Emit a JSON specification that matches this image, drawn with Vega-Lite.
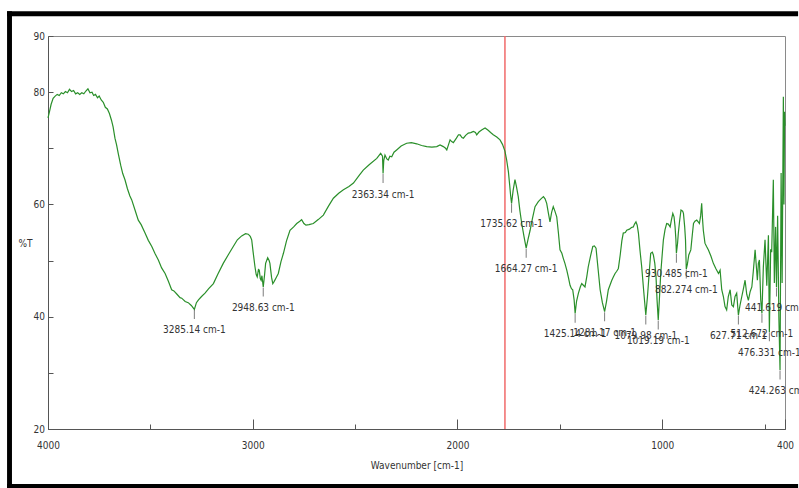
{
  "$schema": "https://vega.github.io/schema/vega-lite/v6.json",
  "width": 737,
  "height": 393,
  "autosize": {"type": "none"},
  "padding": {"left": 48, "top": 36, "right": 14, "bottom": 59},
  "background": "white",
  "config": {
    "view": {"stroke": "#8a8a8a", "strokeWidth": 1},
    "font": "DejaVu Sans Condensed, DejaVu Sans, sans-serif",
    "axis": {"labelFont": "DejaVu Sans Condensed, DejaVu Sans, sans-serif", "titleFont": "DejaVu Sans Condensed, DejaVu Sans, sans-serif"}
  },
  "datasets": {
    "spectrum": [
      {"wn":4000,"t":75.4},{"wn":3993,"t":76.5},{"wn":3985,"t":77.8},{"wn":3975,"t":78.9},{"wn":3965,"t":79.3},{"wn":3955,"t":79.6},{"wn":3945,"t":79.4},{"wn":3935,"t":79.9},{"wn":3925,"t":79.7},{"wn":3915,"t":80.1},{"wn":3905,"t":79.9},{"wn":3895,"t":80.5},{"wn":3885,"t":80.1},{"wn":3875,"t":80.3},{"wn":3865,"t":79.7},{"wn":3855,"t":79.9},{"wn":3845,"t":79.6},{"wn":3835,"t":79.9},{"wn":3825,"t":79.7},{"wn":3815,"t":80.2},{"wn":3805,"t":80.6},{"wn":3795,"t":79.9},{"wn":3785,"t":80.0},{"wn":3777,"t":79.4},{"wn":3768,"t":79.6},{"wn":3758,"t":79.0},{"wn":3750,"t":79.3},{"wn":3740,"t":78.6},{"wn":3730,"t":78.2},{"wn":3720,"t":77.3},{"wn":3710,"t":77.0},{"wn":3700,"t":76.2},{"wn":3690,"t":75.0},{"wn":3682,"t":73.8},{"wn":3673,"t":71.8},{"wn":3665,"t":70.6},{"wn":3657,"t":69.1},{"wn":3645,"t":67.0},{"wn":3635,"t":65.5},{"wn":3624,"t":64.4},{"wn":3612,"t":62.8},{"wn":3600,"t":61.5},{"wn":3591,"t":60.8},{"wn":3575,"t":59.0},{"wn":3559,"t":57.2},{"wn":3545,"t":56.4},{"wn":3526,"t":54.9},{"wn":3510,"t":53.6},{"wn":3493,"t":52.5},{"wn":3478,"t":51.3},{"wn":3461,"t":50.1},{"wn":3445,"t":48.7},{"wn":3428,"t":47.7},{"wn":3412,"t":46.3},{"wn":3396,"t":44.8},{"wn":3385,"t":44.6},{"wn":3370,"t":44.0},{"wn":3355,"t":43.4},{"wn":3347,"t":43.3},{"wn":3330,"t":42.7},{"wn":3315,"t":42.5},{"wn":3300,"t":42.0},{"wn":3285.14,"t":41.3},{"wn":3275,"t":42.5},{"wn":3265,"t":43.0},{"wn":3250,"t":43.6},{"wn":3233,"t":44.2},{"wn":3215,"t":45.0},{"wn":3192,"t":45.9},{"wn":3170,"t":47.6},{"wn":3144,"t":49.5},{"wn":3120,"t":51.0},{"wn":3095,"t":52.5},{"wn":3075,"t":53.7},{"wn":3054,"t":54.4},{"wn":3035,"t":54.8},{"wn":3022,"t":54.7},{"wn":3012,"t":54.3},{"wn":3005,"t":53.7},{"wn":2998,"t":51.5},{"wn":2989,"t":48.9},{"wn":2983,"t":47.5},{"wn":2978,"t":47.1},{"wn":2972,"t":48.4},{"wn":2968,"t":48.3},{"wn":2963,"t":46.8},{"wn":2959,"t":46.5},{"wn":2955,"t":47.3},{"wn":2948.63,"t":45.3},{"wn":2942,"t":47.5},{"wn":2937,"t":49.5},{"wn":2927,"t":50.5},{"wn":2920,"t":50.0},{"wn":2916,"t":49.5},{"wn":2908,"t":47.0},{"wn":2902,"t":45.9},{"wn":2895,"t":46.3},{"wn":2885,"t":47.0},{"wn":2875,"t":47.7},{"wn":2862,"t":49.8},{"wn":2850,"t":51.3},{"wn":2835,"t":53.5},{"wn":2818,"t":55.4},{"wn":2800,"t":56.0},{"wn":2785,"t":56.6},{"wn":2770,"t":57.0},{"wn":2761,"t":57.3},{"wn":2750,"t":56.6},{"wn":2740,"t":56.3},{"wn":2725,"t":56.4},{"wn":2704,"t":56.6},{"wn":2680,"t":57.3},{"wn":2655,"t":58.1},{"wn":2630,"t":59.7},{"wn":2606,"t":61.1},{"wn":2580,"t":62.0},{"wn":2557,"t":62.6},{"wn":2530,"t":63.2},{"wn":2508,"t":63.8},{"wn":2479,"t":65.2},{"wn":2460,"t":66.1},{"wn":2430,"t":67.1},{"wn":2394,"t":68.2},{"wn":2375,"t":69.1},{"wn":2366,"t":68.6},{"wn":2363.34,"t":65.5},{"wn":2360,"t":67.8},{"wn":2354,"t":68.8},{"wn":2345,"t":68.1},{"wn":2338,"t":67.9},{"wn":2330,"t":68.6},{"wn":2321,"t":68.5},{"wn":2310,"t":69.3},{"wn":2297,"t":69.7},{"wn":2275,"t":70.4},{"wn":2248,"t":70.9},{"wn":2225,"t":71.0},{"wn":2199,"t":70.8},{"wn":2175,"t":70.5},{"wn":2150,"t":70.3},{"wn":2125,"t":70.2},{"wn":2101,"t":70.3},{"wn":2085,"t":70.6},{"wn":2069,"t":70.3},{"wn":2058,"t":70.0},{"wn":2052,"t":69.7},{"wn":2044,"t":70.6},{"wn":2036,"t":71.5},{"wn":2028,"t":71.2},{"wn":2020,"t":71.0},{"wn":2005,"t":71.8},{"wn":1995,"t":72.4},{"wn":1987,"t":72.4},{"wn":1978,"t":71.9},{"wn":1971,"t":71.8},{"wn":1960,"t":72.3},{"wn":1947,"t":72.7},{"wn":1935,"t":72.8},{"wn":1922,"t":73.0},{"wn":1912,"t":72.8},{"wn":1906,"t":72.4},{"wn":1895,"t":72.9},{"wn":1880,"t":73.3},{"wn":1865,"t":73.6},{"wn":1850,"t":73.2},{"wn":1838,"t":72.8},{"wn":1825,"t":72.4},{"wn":1808,"t":72.0},{"wn":1792,"t":71.5},{"wn":1780,"t":70.7},{"wn":1768,"t":69.5},{"wn":1760,"t":68.0},{"wn":1751,"t":65.8},{"wn":1745,"t":63.5},{"wn":1740,"t":61.5},{"wn":1735.62,"t":60.2},{"wn":1728,"t":62.5},{"wn":1719,"t":64.4},{"wn":1712,"t":63.2},{"wn":1703,"t":61.4},{"wn":1695,"t":58.9},{"wn":1686,"t":56.6},{"wn":1675,"t":54.3},{"wn":1664.27,"t":52.2},{"wn":1655,"t":53.8},{"wn":1645,"t":55.4},{"wn":1633,"t":57.6},{"wn":1621,"t":59.6},{"wn":1605,"t":60.5},{"wn":1592,"t":61.0},{"wn":1580,"t":61.4},{"wn":1572,"t":61.0},{"wn":1564,"t":60.2},{"wn":1556,"t":58.5},{"wn":1548,"t":56.9},{"wn":1540,"t":58.6},{"wn":1532,"t":59.6},{"wn":1524,"t":58.8},{"wn":1515,"t":57.8},{"wn":1507,"t":55.0},{"wn":1499,"t":51.9},{"wn":1490,"t":51.3},{"wn":1483,"t":50.4},{"wn":1475,"t":49.5},{"wn":1466,"t":48.3},{"wn":1458,"t":47.0},{"wn":1450,"t":45.6},{"wn":1443,"t":45.0},{"wn":1437,"t":44.8},{"wn":1430,"t":43.0},{"wn":1425.14,"t":40.6},{"wn":1418,"t":42.8},{"wn":1409,"t":44.2},{"wn":1400,"t":45.3},{"wn":1393,"t":45.9},{"wn":1385,"t":45.6},{"wn":1377,"t":45.3},{"wn":1368,"t":47.2},{"wn":1361,"t":48.9},{"wn":1350,"t":50.8},{"wn":1339,"t":52.5},{"wn":1331,"t":52.6},{"wn":1323,"t":52.2},{"wn":1313,"t":48.5},{"wn":1303,"t":44.8},{"wn":1292,"t":42.5},{"wn":1281.17,"t":40.9},{"wn":1272,"t":42.7},{"wn":1263,"t":44.8},{"wn":1255,"t":45.6},{"wn":1246,"t":46.5},{"wn":1238,"t":47.1},{"wn":1230,"t":47.7},{"wn":1222,"t":48.1},{"wn":1214,"t":48.6},{"wn":1205,"t":51.0},{"wn":1197,"t":53.5},{"wn":1190,"t":54.9},{"wn":1180,"t":55.0},{"wn":1173,"t":55.4},{"wn":1160,"t":55.6},{"wn":1150,"t":55.9},{"wn":1141,"t":56.0},{"wn":1135,"t":56.5},{"wn":1128,"t":56.9},{"wn":1122,"t":56.3},{"wn":1116,"t":54.9},{"wn":1108,"t":51.7},{"wn":1100,"t":48.9},{"wn":1090,"t":44.5},{"wn":1079.98,"t":40.3},{"wn":1072,"t":43.5},{"wn":1067,"t":46.0},{"wn":1062,"t":48.5},{"wn":1056,"t":51.3},{"wn":1048,"t":51.5},{"wn":1043,"t":51.0},{"wn":1036,"t":49.5},{"wn":1030,"t":47.1},{"wn":1025,"t":43.0},{"wn":1019.19,"t":39.4},{"wn":1013,"t":43.5},{"wn":1007,"t":47.7},{"wn":1000,"t":51.0},{"wn":994,"t":53.7},{"wn":986,"t":55.5},{"wn":978,"t":56.6},{"wn":970,"t":56.5},{"wn":961,"t":56.0},{"wn":955,"t":57.2},{"wn":948,"t":58.4},{"wn":942,"t":57.8},{"wn":937,"t":56.0},{"wn":933,"t":53.8},{"wn":930.485,"t":51.3},{"wn":925,"t":53.0},{"wn":921,"t":54.9},{"wn":915,"t":57.0},{"wn":908,"t":59.0},{"wn":900,"t":58.8},{"wn":896,"t":58.4},{"wn":890,"t":56.0},{"wn":886,"t":53.7},{"wn":882.274,"t":48.5},{"wn":877,"t":49.3},{"wn":870,"t":51.0},{"wn":860,"t":51.9},{"wn":853,"t":54.5},{"wn":847,"t":56.6},{"wn":840,"t":57.0},{"wn":831,"t":57.2},{"wn":824,"t":56.9},{"wn":818,"t":56.6},{"wn":812,"t":58.0},{"wn":807,"t":60.2},{"wn":803,"t":57.5},{"wn":799,"t":55.4},{"wn":791,"t":53.1},{"wn":783,"t":52.5},{"wn":774,"t":51.9},{"wn":762,"t":50.8},{"wn":750,"t":49.5},{"wn":738,"t":48.6},{"wn":725,"t":47.7},{"wn":717,"t":48.3},{"wn":709,"t":44.8},{"wn":701,"t":43.6},{"wn":693,"t":41.8},{"wn":685,"t":41.2},{"wn":677,"t":43.6},{"wn":668,"t":44.8},{"wn":660,"t":42.1},{"wn":652,"t":41.8},{"wn":644,"t":43.6},{"wn":636,"t":44.2},{"wn":627.71,"t":40.3},{"wn":620,"t":42.0},{"wn":611,"t":43.6},{"wn":603,"t":45.0},{"wn":595,"t":46.5},{"wn":587,"t":44.0},{"wn":579,"t":42.9},{"wn":570,"t":44.5},{"wn":562,"t":45.3},{"wn":555,"t":48.0},{"wn":546,"t":51.9},{"wn":540,"t":49.0},{"wn":535,"t":46.5},{"wn":530,"t":49.5},{"wn":525,"t":50.1},{"wn":518.5,"t":43.0},{"wn":512.672,"t":40.6},{"wn":505.7,"t":48.9},{"wn":497.5,"t":53.7},{"wn":489,"t":45.5},{"wn":481,"t":54.5},{"wn":476.331,"t":37.3},{"wn":470,"t":52.0},{"wn":465,"t":51.5},{"wn":457,"t":64.4},{"wn":452,"t":46.0},{"wn":446,"t":56.0},{"wn":441.619,"t":45.3},{"wn":436,"t":58.0},{"wn":430,"t":40.0},{"wn":424.263,"t":30.5},{"wn":419,"t":65.6},{"wn":414,"t":46.0},{"wn":408,"t":79.2},{"wn":405,"t":60.0},{"wn":402,"t":76.5},{"wn":400,"t":74.0}
    ],
    "peaks": [
      {"wn":3285.14,"t":41.3,"label":"3285.14 cm-1"},
      {"wn":2948.63,"t":45.3,"label":"2948.63 cm-1"},
      {"wn":2363.34,"t":65.5,"label":"2363.34 cm-1"},
      {"wn":1735.62,"t":60.2,"label":"1735.62 cm-1"},
      {"wn":1664.27,"t":52.2,"label":"1664.27 cm-1"},
      {"wn":1425.14,"t":40.6,"label":"1425.14 cm-1"},
      {"wn":1281.17,"t":40.9,"label":"1281.17 cm-1"},
      {"wn":1079.98,"t":40.3,"label":"1079.98 cm-1"},
      {"wn":1019.19,"t":39.4,"label":"1019.19 cm-1"},
      {"wn":930.485,"t":51.3,"label":"930.485 cm-1"},
      {"wn":882.274,"t":48.5,"label":"882.274 cm-1"},
      {"wn":627.71,"t":40.3,"label":"627.71 cm-1"},
      {"wn":512.672,"t":40.6,"label":"512.672 cm-1"},
      {"wn":476.331,"t":37.3,"label":"476.331 cm-1"},
      {"wn":441.619,"t":45.3,"label":"441.619 cm-1"},
      {"wn":424.263,"t":30.5,"label":"424.263 cm-1"}
    ],
    "marker": [{"wn": 1768}]
  },
  "layer": [
    {
      "data": {"values": [{}]},
      "mark": {"type": "rule", "color": "black", "strokeWidth": 5, "strokeCap": "butt", "clip": false},
      "encoding": {
        "x": {"datum": 4200, "type": "quantitative", "axis": null, "scale": {"domain": [400, 4000], "reverse": true, "nice": false, "zero": false}},
        "x2": {"datum": 336},
        "y": {"datum": 93.95, "type": "quantitative", "scale": {"domain": [20, 90], "nice": false, "zero": false}}
      }
    },
    {
      "data": {"values": [{}]},
      "mark": {"type": "rect", "color": "black", "clip": false},
      "encoding": {
        "x": {"datum": 4200, "type": "quantitative", "axis": null},
        "x2": {"datum": 4176},
        "y": {"datum": 94.4, "type": "quantitative"},
        "y2": {"datum": 9.5}
      }
    },
    {
      "data": {"values": [{}]},
      "mark": {"type": "rule", "color": "black", "strokeWidth": 4, "strokeCap": "butt", "clip": false},
      "encoding": {
        "x": {"datum": 4200, "type": "quantitative", "axis": null},
        "x2": {"datum": 336},
        "y": {"datum": 9.85, "type": "quantitative"}
      }
    },
    {
      "data": {"name": "marker"},
      "mark": {"type": "rule", "color": "#f06a6a", "strokeWidth": 1.5},
      "encoding": {
        "x": {"field": "wn", "type": "quantitative",
          "axis": {"orient": "bottom", "values": [3500, 2500, 1500, 500], "labels": false, "domain": false, "grid": false, "tickSize": -5, "tickColor": "#555", "title": null}}
      }
    },
    {
      "data": {"name": "spectrum"},
      "mark": {"type": "line", "color": "#2a8f2a", "strokeWidth": 1.2, "interpolate": "linear"},
      "encoding": {
        "x": {"field": "wn", "type": "quantitative",
          "axis": {"orient": "bottom", "values": [4000, 3000, 2000, 1000, 400], "format": "d", "grid": false,
            "tickSize": -10, "tickColor": "#555", "domainColor": "#555", "labelFontSize": 10, "labelColor": "#333", "labelPadding": 21,
            "labelFlush": false,
            "title": "Wavenumber [cm-1]", "titleFontSize": 10, "titleFontWeight": "normal", "titleColor": "#333", "titleY": 36, "titleBaseline": "middle"}},
        "y": {"field": "t", "type": "quantitative",
          "axis": {"values": [20, 30, 40, 50, 60, 70, 80, 90], "labelExpr": "datum.value == 30 || datum.value == 50 || datum.value == 70 ? '' : datum.label",
            "grid": false, "tickSize": -5, "tickColor": "#555", "domainColor": "#555", "labelFontSize": 10, "labelColor": "#333", "labelPadding": 8.5,
            "title": "%T", "titleAngle": 0, "titleX": -23, "titleY": 207, "titleAlign": "center", "titleBaseline": "middle",
            "titleFontSize": 10, "titleFontWeight": "normal", "titleColor": "#333"}}
      }
    },
    {
      "data": {"name": "peaks"},
      "mark": {"type": "tick", "orient": "vertical", "color": "#444", "size": 9, "thickness": 1, "yOffset": 5},
      "encoding": {
        "x": {"field": "wn", "type": "quantitative", "axis": null},
        "y": {"field": "t", "type": "quantitative"}
      }
    },
    {
      "data": {"name": "peaks"},
      "mark": {"type": "text", "fontSize": 10, "color": "#333", "dy": 21, "align": "center", "baseline": "middle"},
      "encoding": {
        "x": {"field": "wn", "type": "quantitative", "axis": null},
        "y": {"field": "t", "type": "quantitative"},
        "text": {"field": "label"}
      }
    }
  ],
  "resolve": {"axis": {"x": "independent"}}
}
